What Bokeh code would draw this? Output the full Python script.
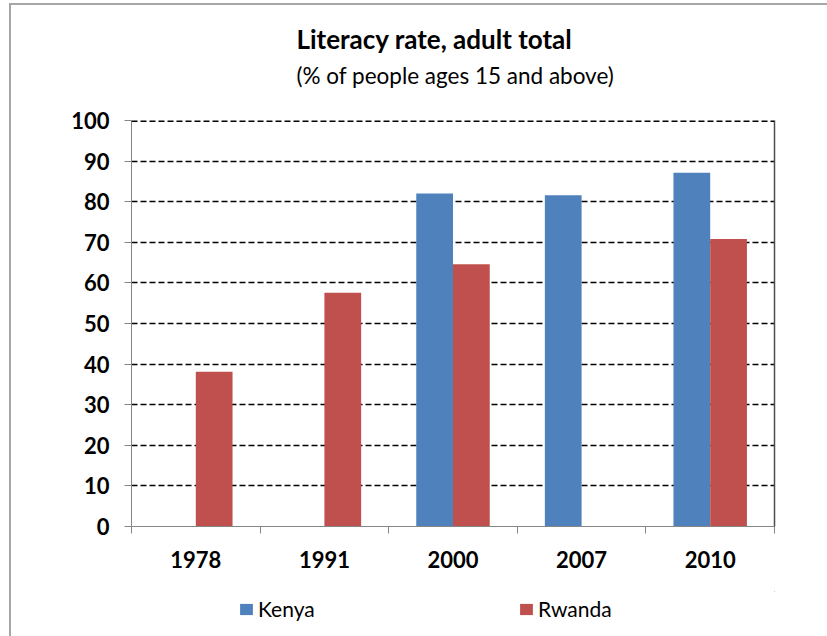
from bokeh.plotting import figure
from bokeh.layouts import column
from bokeh.models import (ColumnDataSource, FixedTicker, Label, Legend,
                          LegendItem, LinearAxis, Range1d, Span)
from bokeh.embed import file_html
from bokeh.resources import INLINE

# Survey years and adult literacy rate (% of people ages 15 and above)
years = ["1978", "1991", "2000", "2007", "2010"]
kenya = [None, None, 82.0, 81.6, 87.1]
rwanda = [38.1, 57.6, 64.6, None, 70.8]
y_ticks = [0, 10, 20, 30, 40, 50, 60, 70, 80, 90, 100]

TITLE = "Literacy rate, adult total"
SUBTITLE = "(% of people ages 15 and above)"

KENYA_COLOR = "#4F81BD"
RWANDA_COLOR = "#C0504D"
AXIS_GRAY = "#868686"
FONT = "Lato"
WIDTH = 816

# each year occupies one unit slot on a numeric x scale
slots = list(range(len(years)))
centers = [i + 0.5 for i in slots]
bar_w = 1 / 3.5  # two bars per slot with a 150% gap


def series_source(vals, shift):
    xs, tops = [], []
    for c, v in zip(centers, vals):
        if v is not None:
            xs.append(c + shift)
            tops.append(v)
    return ColumnDataSource(dict(x=xs, top=tops))


def blank_panel(height, x_range=(0, 1), y_range=(0, 1)):
    """A figure without axes; the column lines its frame up with the chart."""
    f = figure(width=WIDTH, height=height, x_range=Range1d(*x_range),
               y_range=Range1d(*y_range), x_axis_type=None, y_axis_type=None,
               output_backend="svg", toolbar_location=None,
               min_border=0, outline_line_color=None,
               background_fill_color="white", border_fill_color="white")
    f.grid.visible = False
    return f


# ---- title block ----
head = blank_panel(95)
head.add_layout(Label(x=165, y=62, x_units="screen", y_units="screen",
                      text=TITLE, text_font=FONT, text_font_style="bold",
                      text_font_size="26px", text_color="black",
                      text_baseline="alphabetic"))
head.add_layout(Label(x=165, y=25, x_units="screen", y_units="screen",
                      text=SUBTITLE, text_font=FONT, text_font_style="normal",
                      text_font_size="22.5px", text_color="black",
                      text_baseline="alphabetic"))

# ---- bar chart ----
p = figure(
    width=WIDTH, height=491,
    x_range=Range1d(0, len(years)), y_range=Range1d(0, 100),
    output_backend="svg", toolbar_location=None,
    min_border_left=120, min_border_right=53,
    min_border_top=20, min_border_bottom=65,
    background_fill_color="white", border_fill_color="white",
)
p.title.visible = False
p.outline_line_color = None

src_k = series_source(kenya, -bar_w / 2)
src_r = series_source(rwanda, bar_w / 2)
p.vbar(x="x", top="top", width=bar_w, source=src_k,
       fill_color=KENYA_COLOR, line_color=None)
p.vbar(x="x", top="top", width=bar_w, source=src_r,
       fill_color=RWANDA_COLOR, line_color=None)

# grid
p.xgrid.grid_line_color = None
p.ygrid.ticker = FixedTicker(ticks=y_ticks[1:])
p.ygrid.grid_line_color = "black"
p.ygrid.grid_line_dash = "6 3"
p.ygrid.grid_line_width = 1.5
p.add_layout(Span(location=y_ticks[-1], dimension="width",
                  line_color="black", line_dash="6 3", line_width=3))

# y axis
yax = p.yaxis[0]
yax.ticker = FixedTicker(ticks=y_ticks)
yax.axis_line_color = AXIS_GRAY
yax.major_tick_line_color = AXIS_GRAY
yax.major_tick_out = 7
yax.major_tick_in = 0
yax.minor_tick_line_color = None
yax.major_label_standoff = 15
yax.major_label_text_font = FONT
yax.major_label_text_font_style = "bold"
yax.major_label_text_font_size = "22px"
yax.major_label_text_color = "black"

# x axis: labels at slot centres, tick marks on slot boundaries
xax = p.xaxis[0]
xax.ticker = FixedTicker(ticks=centers, minor_ticks=slots + [len(years)])
xax.major_label_overrides = {c: y for c, y in zip(centers, years)}
xax.axis_line_color = AXIS_GRAY
xax.major_tick_line_color = None
xax.minor_tick_line_color = AXIS_GRAY
xax.minor_tick_out = 7
xax.minor_tick_in = 0
xax.major_label_standoff = 17
xax.major_label_text_font = FONT
xax.major_label_text_font_style = "bold"
xax.major_label_text_font_size = "22px"
xax.major_label_text_color = "black"

# right edge line of the plot area
right = LinearAxis(ticker=FixedTicker(ticks=[]), axis_line_color="#4D4D4D",
                   axis_line_width=1.5, major_tick_line_color=None,
                   minor_tick_line_color=None, major_label_text_font_size="0px")
p.add_layout(right, "right")

# ---- legend strip ----
# the strip reuses the series sources; its ranges lie well away from every
# bar, so only the legend swatches are drawn
foot = blank_panel(45, x_range=(-3, -2), y_range=(-3, -2))
lk = foot.vbar(x="x", top="top", width=bar_w, source=src_k,
               fill_color=KENYA_COLOR, line_color=None)
lr = foot.vbar(x="x", top="top", width=bar_w, source=src_r,
               fill_color=RWANDA_COLOR, line_color=None)
legend = Legend(
    items=[LegendItem(label="Kenya", renderers=[lk]),
           LegendItem(label="Rwanda", renderers=[lr])],
    orientation="horizontal", location=(107, 15),
    glyph_width=16, glyph_height=14, label_standoff=4, label_width=60,
    spacing=200, padding=0, margin=0,
    border_line_alpha=0, background_fill_alpha=0,
    label_text_font=FONT, label_text_font_size="21px",
    label_text_color="black",
)
foot.add_layout(legend, "center")

page = column(head, p, foot, spacing=0)
page.styles = {"border-left": "2px solid #A6A6A6",
               "border-top": "2px solid #A6A6A6"}
page.margin = (3, 0, 0, 9)

open("out.html", "w").write(file_html(page, INLINE))
